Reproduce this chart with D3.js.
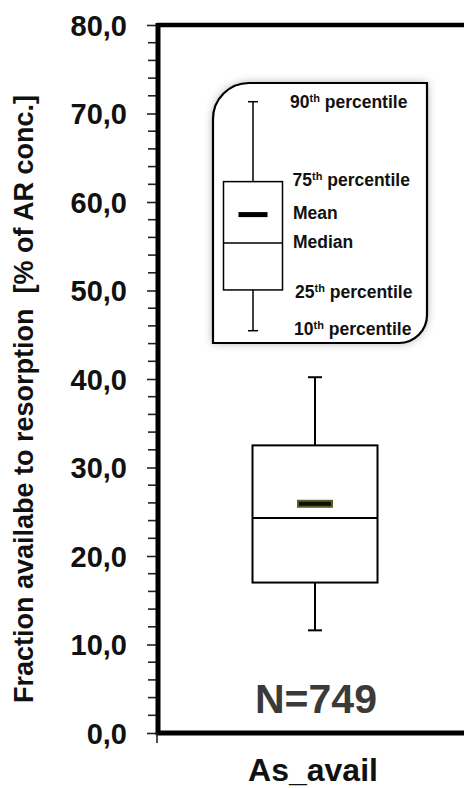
<!DOCTYPE html>
<html><head><meta charset="utf-8">
<script src="https://cdn.jsdelivr.net/npm/d3@7"></script>
<style>
html,body{margin:0;padding:0;background:#fff;}
svg{display:block;font-family:"Liberation Sans",Arial,sans-serif;font-weight:bold;}
</style></head>
<body>
<svg id="chart" width="464" height="788"></svg>
<script>
// ---- data ----
const categories = ["As_avail"];
const p10Values = [11.6];
const q1Values = [17.0];
const medianValues = [24.3];
const meanValues = [25.9];
const q3Values = [32.5];
const p90Values = [40.2];
const countLabels = ["N=749"];
const yMajorTicks = [0, 10, 20, 30, 40, 50, 60, 70, 80];
const yMinorTicks = d3.range(0, 81, 2);
const yLabel = "Fraction availabe to resorption  [% of AR conc.]";
// legend schematic (relative positions 0..1)
const legendKeys = ["p90", "q3", "mean", "median", "q1", "p10"];
const legendPos = [1, 0.651, 0.507, 0.383, 0.178, 0];
const legendTexts = [["90", "th", " percentile"], ["75", "th", " percentile"], ["Mean", "", ""], ["Median", "", ""], ["25", "th", " percentile"], ["10", "th", " percentile"]];
const legendTextDy = [6, 4, 4, 5, 8, 4];

const svg = d3.select("#chart");
const W = 464, H = 788;
const mLeft = 158, mTop = 25, mBottom = 733;

const y = d3.scaleLinear().domain([0, 80]).range([mBottom, mTop]);

const defs = svg.append("defs");
const f = defs.append("filter").attr("id", "shadow").attr("x", "-20%").attr("y", "-20%").attr("width", "140%").attr("height", "140%");
f.append("feDropShadow").attr("dx", 0).attr("dy", 0).attr("stdDeviation", 5).attr("flood-color", "#000").attr("flood-opacity", 0.35);

// minor ticks
svg.append("g").selectAll("line").data(yMinorTicks.filter(v => v % 10 !== 0)).join("line")
  .attr("x1", mLeft - 10).attr("x2", mLeft).attr("y1", d => y(d)).attr("y2", d => y(d))
  .attr("stroke", "#222").attr("stroke-width", 1.6);

// major axis
const yAxis = d3.axisLeft(y).tickValues(yMajorTicks).tickSize(11).tickPadding(20)
  .tickFormat(d => d3.format(".1f")(d).replace(".", ","));
const gy = svg.append("g").attr("transform", `translate(${mLeft},0)`).call(yAxis);
gy.select(".domain").remove();
gy.selectAll(".tick line").attr("stroke", "#222").attr("stroke-width", 1.6);
gy.selectAll(".tick text").attr("font-size", 29).attr("font-weight", "bold").attr("fill", "#111")
  .attr("font-family", "Liberation Sans, Arial, sans-serif").attr("dy", "0.36em");

// frame: top & left & bottom
svg.append("line").attr("x1", mLeft - 1).attr("x2", W + 10).attr("y1", mTop).attr("y2", mTop).attr("stroke", "#000").attr("stroke-width", 4.5);
svg.append("line").attr("x1", mLeft).attr("x2", mLeft).attr("y1", mTop - 2).attr("y2", mBottom + 2).attr("stroke", "#000").attr("stroke-width", 5);
svg.append("line").attr("x1", mLeft - 2).attr("x2", W + 10).attr("y1", mBottom).attr("y2", mBottom).attr("stroke", "#000").attr("stroke-width", 5);
svg.append("line").attr("x1", mLeft - 1).attr("x2", mLeft - 1).attr("y1", mBottom).attr("y2", mBottom + 10).attr("stroke", "#222").attr("stroke-width", 1.6);

// x label
svg.append("text").attr("x", 313).attr("y", 781).attr("text-anchor", "middle")
  .attr("font-size", 32).attr("fill", "#111").text(categories[0]);

// y label
svg.append("text").attr("transform", `translate(33,399) rotate(-90)`).attr("text-anchor", "middle")
  .attr("font-size", 27).attr("fill", "#111").style("white-space", "pre").text(yLabel);

// main box plot
const bw = 125, capW = 14;
categories.forEach((c, i) => {
  const cx = 315;
  const g = svg.append("g");
  g.append("line").attr("x1", cx).attr("x2", cx).attr("y1", y(p90Values[i])).attr("y2", y(q3Values[i])).attr("stroke", "#000").attr("stroke-width", 2);
  g.append("line").attr("x1", cx).attr("x2", cx).attr("y1", y(q1Values[i])).attr("y2", y(p10Values[i])).attr("stroke", "#000").attr("stroke-width", 2);
  g.append("line").attr("x1", cx - capW / 2).attr("x2", cx + capW / 2).attr("y1", y(p90Values[i])).attr("y2", y(p90Values[i])).attr("stroke", "#000").attr("stroke-width", 2);
  g.append("line").attr("x1", cx - capW / 2).attr("x2", cx + capW / 2).attr("y1", y(p10Values[i])).attr("y2", y(p10Values[i])).attr("stroke", "#000").attr("stroke-width", 2);
  g.append("rect").attr("x", cx - bw / 2).attr("width", bw).attr("y", y(q3Values[i])).attr("height", y(q1Values[i]) - y(q3Values[i]))
    .attr("fill", "#fff").attr("stroke", "#000").attr("stroke-width", 2);
  g.append("line").attr("x1", cx - bw / 2).attr("x2", cx + bw / 2).attr("y1", y(medianValues[i])).attr("y2", y(medianValues[i])).attr("stroke", "#000").attr("stroke-width", 2);
  g.append("rect").attr("x", cx - 17).attr("width", 34).attr("y", y(meanValues[i]) - 3).attr("height", 6)
    .attr("fill", "#0d1205").attr("stroke", "#55602a").attr("stroke-width", 2);
  svg.append("text").attr("x", 316).attr("y", 713).attr("text-anchor", "middle").attr("font-size", 41).attr("fill", "#3a3a3a").text(countLabels[i]);
});

// legend box
const Lx0 = 213, Lx1 = 427, Ly0 = 83, Ly1 = 343, r1 = 36, r2 = 28;
const p = d3.path();
p.moveTo(Lx0 + r1, Ly0);
p.lineTo(Lx1, Ly0);
p.lineTo(Lx1, Ly1 - r2);
p.arcTo(Lx1, Ly1, Lx1 - r2, Ly1, r2);
p.lineTo(Lx0, Ly1);
p.lineTo(Lx0, Ly0 + r1);
p.arcTo(Lx0, Ly0, Lx0 + r1, Ly0, r1);
p.closePath();
svg.append("path").attr("d", p.toString()).attr("fill", "#fff").attr("filter", "url(#shadow)");
svg.append("path").attr("d", p.toString()).attr("fill", "#fff").attr("stroke", "#000").attr("stroke-width", 2.2);

const ly = d3.scaleLinear().domain([0, 1]).range([330.7, 101.7]);
const L = {}; legendKeys.forEach((k, i) => L[k] = ly(legendPos[i]));
const lg = svg.append("g");
const lcx = 253, lbw = 59, lcap = 10;
lg.append("line").attr("x1", lcx).attr("x2", lcx).attr("y1", L.p90).attr("y2", L.q3).attr("stroke", "#000").attr("stroke-width", 1.5);
lg.append("line").attr("x1", lcx).attr("x2", lcx).attr("y1", L.q1).attr("y2", L.p10).attr("stroke", "#000").attr("stroke-width", 1.5);
lg.append("line").attr("x1", lcx - lcap / 2).attr("x2", lcx + lcap / 2).attr("y1", L.p90).attr("y2", L.p90).attr("stroke", "#000").attr("stroke-width", 1.5);
lg.append("line").attr("x1", lcx - lcap / 2).attr("x2", lcx + lcap / 2).attr("y1", L.p10).attr("y2", L.p10).attr("stroke", "#000").attr("stroke-width", 1.5);
lg.append("rect").attr("x", lcx - lbw / 2).attr("width", lbw).attr("y", L.q3).attr("height", L.q1 - L.q3).attr("fill", "none").attr("stroke", "#000").attr("stroke-width", 1.5);
lg.append("line").attr("x1", lcx - lbw / 2).attr("x2", lcx + lbw / 2).attr("y1", L.median).attr("y2", L.median).attr("stroke", "#000").attr("stroke-width", 1.5);
lg.append("rect").attr("x", lcx - 14.5).attr("width", 29).attr("y", L.mean - 2.5).attr("height", 5).attr("fill", "#000");

const lxText = [290, 292.5, 293, 293, 295, 294];
legendKeys.forEach((k, i) => {
  const t = lg.append("text").attr("x", lxText[i]).attr("y", L[k] + legendTextDy[i]).attr("font-size", 17.5).attr("fill", "#111");
  const [a, sup, rest] = legendTexts[i];
  t.append("tspan").text(a);
  if (sup) {
    t.append("tspan").attr("font-size", 11).attr("dy", -6).text(sup);
    t.append("tspan").attr("dy", 6).style("white-space", "pre").text(rest);
  }
});
</script>
</body></html>
